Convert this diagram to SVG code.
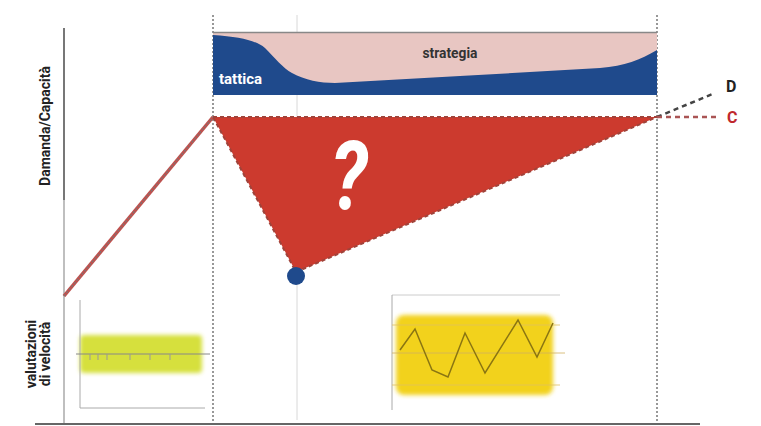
<svg xmlns="http://www.w3.org/2000/svg" width="761" height="426" viewBox="0 0 761 426">
<defs>
<style>
.lbl{font-family:"Roboto","Liberation Sans",sans-serif;font-weight:bold;}
.dot{stroke:#777;stroke-width:1.5;stroke-dasharray:2 2;fill:none;}
.faint{stroke:#d8d8d8;stroke-width:1;fill:none;}
</style>
<filter id="blur" x="-10%" y="-20%" width="120%" height="140%"><feGaussianBlur stdDeviation="2"/></filter>
</defs>
<rect width="761" height="426" fill="#fff"/>
<g id="grid">
<line class="faint" x1="297" y1="15" x2="297" y2="420"/>
<line class="dot" x1="213" y1="15" x2="213" y2="422"/>
<line class="dot" x1="657" y1="15" x2="657" y2="422"/>
<line x1="64" y1="28" x2="64" y2="424" stroke="#aaa" stroke-width="1.5"/>
<line x1="64" y1="28" x2="64" y2="200" stroke="#777" stroke-width="2"/>
<line x1="35" y1="424" x2="700" y2="424" stroke="#666" stroke-width="2"/>
</g>
<g id="band">
<rect x="213" y="32" width="444" height="63" fill="#e8c6c2"/>
<path d="M213,35 C240,37 255,40 265,48 C275,58 283,68 292,73 C305,80 320,83 335,83 L460,76 L600,68 C625,66 640,60 657,50 L657,95 L213,95 Z" fill="#1f4a8c"/>
<line x1="213" y1="32.5" x2="657" y2="32.5" stroke="#888" stroke-width="1.5"/>
<text class="lbl" x="450" y="58" font-size="15" fill="#333" text-anchor="middle" transform="translate(450,0) scale(0.92,1) translate(-450,0)">strategia</text>
<text class="lbl" x="219" y="84" font-size="15" fill="#fff">tattica</text>
</g>
<g id="connectors">
<line x1="64" y1="296" x2="213" y2="117" stroke="#c0504d" stroke-width="3.5"/>
<line x1="64" y1="296" x2="213" y2="117" stroke="#777" stroke-width="1.2" stroke-dasharray="2 2"/>
<line x1="657" y1="117" x2="715" y2="93" stroke="#444" stroke-width="2.5" stroke-dasharray="5 4"/>
<line x1="657" y1="117" x2="718" y2="117" stroke="#a55" stroke-width="2.5" stroke-dasharray="5 4"/>
</g>
<g id="gap">
<polygon points="213,117 657,117 296,272" fill="#cc3a2e"/>
<polygon points="213,117 657,117 296,272" fill="none" stroke="#a0433a" stroke-width="2" stroke-dasharray="4 3"/>
<circle cx="296" cy="276" r="9" fill="#1f4a8c"/>
<text class="lbl" font-size="96" fill="#fff" text-anchor="middle" font-style="italic" transform="translate(349,209) scale(0.8,1)">?</text>
</g>
<g id="labels">
<text class="lbl" x="726" y="92" font-size="16" fill="#222">D</text>
<text class="lbl" x="727" y="123" font-size="16" fill="#c0282d">C</text>
<text class="lbl" font-size="14" fill="#222" text-anchor="middle" transform="translate(50,126) rotate(-90)">Damanda/Capacità</text>
<text class="lbl" font-size="14" fill="#222" text-anchor="middle" transform="translate(36,354) rotate(-90)">valutazioni</text>
<text class="lbl" font-size="14" fill="#222" text-anchor="middle" transform="translate(50,354) rotate(-90)">di velocità</text>
</g>
<g id="chart-left">
<rect x="80" y="335" width="122" height="38" rx="4" fill="#d6e03c" filter="url(#blur)"/>
<line x1="80" y1="300" x2="80" y2="408" stroke="#aaa" stroke-width="1"/>
<line x1="80" y1="408" x2="205" y2="408" stroke="#aaa" stroke-width="1"/>
<line x1="76" y1="354" x2="210" y2="354" stroke="#888" stroke-width="1"/>
<path d="M90,354v6M98,354v6M107,354v6M130,354v6M150,354v6M170,354v6" stroke="#999" stroke-width="1"/>
</g>
<g id="chart-right">
<line x1="392" y1="295" x2="560" y2="295" stroke="#ccc" stroke-width="1"/>
<line x1="392" y1="295" x2="392" y2="410" stroke="#aaa" stroke-width="1"/>
<rect x="396" y="315" width="157" height="80" rx="8" fill="#f2d21e" filter="url(#blur)"/>
<line x1="392" y1="325" x2="560" y2="325" stroke="#e0c060" stroke-width="0.8"/>
<line x1="392" y1="353" x2="565" y2="353" stroke="#d0b060" stroke-width="0.8"/>
<line x1="392" y1="385" x2="560" y2="385" stroke="#e0c060" stroke-width="0.8"/>
<polyline points="400,350 415,329 432,370 448,377 465,333 485,373 518,320 537,357 553,323" fill="none" stroke="#8a7512" stroke-width="1.5"/>
</g>
</svg>
